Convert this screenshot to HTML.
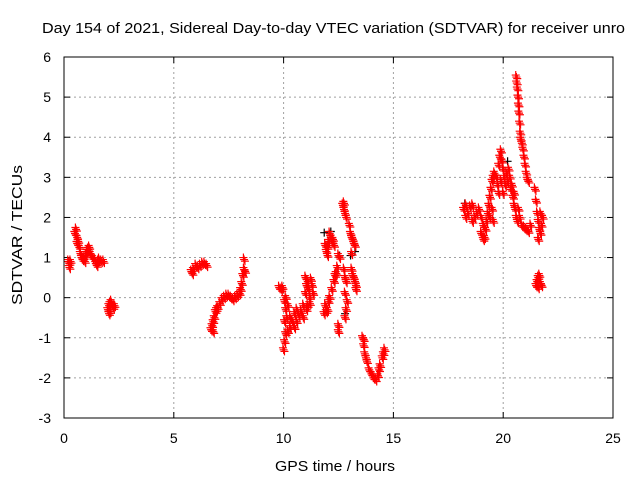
<!DOCTYPE html>
<html><head><meta charset="utf-8"><style>
body{margin:0;background:#fff;}
svg{display:block;font-family:"Liberation Sans",sans-serif;}
</style></head><body>
<svg id="c" width="640" height="480">
<rect width="640" height="480" fill="#fff"/>
<text x="42" y="33" font-size="15" textLength="583" lengthAdjust="spacingAndGlyphs">Day 154 of 2021, Sidereal Day-to-day VTEC variation (SDTVAR) for receiver unro</text>
<g id="grid"></g>
<g id="ticks"></g>
<g id="marks"></g>
<rect x="64" y="57" width="549" height="361" fill="none" stroke="#000" stroke-width="1"/>
<text x="275" y="471" font-size="15" textLength="120" lengthAdjust="spacingAndGlyphs">GPS time / hours</text>
<text x="0" y="0" font-size="15" textLength="140" lengthAdjust="spacingAndGlyphs" transform="translate(22 305) rotate(-90)">SDTVAR / TECUs</text>
</svg>
<script>
const xTicks=[0,5,10,15,20,25];
const yTicks=[-3,-2,-1,0,1,2,3,4,5,6];
const redT=[0.2,0.25,0.25,0.3,0.5,0.55,0.6,0.6,0.65,0.7,0.75,0.8,0.9,1.0,1.05,1.1,1.15,1.2,1.3,1.4,1.45,1.5,1.55,1.6,1.7,1.8,0.85,0.95,
2.0,2.05,2.1,2.15,2.2,2.25,2.1,2.05,2.3,
5.8,5.9,6.0,6.1,6.2,6.3,6.4,6.5,5.85,
6.7,6.75,6.8,6.8,6.85,6.9,6.95,7.0,7.1,7.2,7.3,7.4,7.5,7.6,7.7,7.8,7.9,8.0,8.05,8.1,8.15,8.2,8.25,8.2,
9.8,9.9,9.95,
10.05,10.1,10.1,10.05,10.1,10.05,10.0,10.15,10.2,10.3,10.4,10.5,10.6,10.7,10.8,10.9,10.5,10.3,10.2,10.6,10.9,
11.0,11.05,11.1,11.15,11.2,11.25,11.3,11.1,11.05,11.2,11.35,11.0,
11.9,11.95,12.0,12.0,12.05,12.1,12.15,12.2,12.25,12.3,
11.85,11.9,12.0,12.05,12.1,12.2,12.3,12.35,12.4,12.45,11.95,
12.5,12.55,12.5,12.5,
12.75,12.8,12.85,12.8,12.9,12.85,12.8,
12.7,12.75,12.8,12.85,12.75,
13.0,13.05,13.1,13.15,13.2,13.25,13.1,
13.1,13.15,13.2,13.25,13.3,13.3,
13.6,13.65,13.7,13.75,13.8,13.9,14.0,14.1,14.2,14.3,14.35,14.4,14.5,14.55,14.6,13.65,
18.2,18.3,18.4,18.5,18.6,18.7,18.8,18.9,18.3,18.6,19.0,19.1,
19.0,19.1,19.15,19.2,19.25,19.3,19.35,19.4,19.45,19.5,19.55,19.6,19.4,19.5,19.55,
19.7,19.75,19.8,19.85,19.9,19.95,20.0,20.05,20.1,20.15,20.2,20.25,20.3,20.35,19.8,19.9,20.0,20.4,20.45,20.5,20.55,20.6,20.5,
20.65,20.75,20.85,20.95,21.05,21.15,21.25,20.7,
20.6,20.62,20.65,20.68,20.7,20.72,20.75,20.78,20.8,20.85,20.9,20.95,21.0,21.05,21.1,21.15,
21.45,21.5,21.55,21.6,21.65,21.7,21.6,21.75,21.8,21.7,
21.5,21.55,21.6,21.65,21.7,21.75,21.6];
const redV=[0.9,0.85,0.75,0.9,1.6,1.7,1.5,1.35,1.4,1.25,1.1,1.0,1.0,1.05,1.15,1.2,1.25,1.1,1.0,0.95,0.85,0.8,0.9,0.95,0.9,0.9,0.95,0.9,
-0.3,-0.2,-0.15,-0.1,-0.2,-0.25,-0.35,-0.4,-0.2,
0.65,0.7,0.8,0.75,0.8,0.85,0.85,0.8,0.6,
-0.8,-0.7,-0.6,-0.85,-0.5,-0.35,-0.3,-0.25,-0.15,-0.05,0.0,0.05,0.05,0.0,-0.05,0.0,0.05,0.1,0.2,0.35,0.55,0.7,0.65,0.95,
0.25,0.2,0.25,
-0.1,0.0,-0.3,-0.6,-0.9,-1.1,-1.3,-0.5,-0.2,-0.5,-0.6,-0.4,-0.3,-0.45,-0.35,-0.5,-0.75,-0.75,-0.85,-0.6,-0.2,
0.5,0.3,0.4,0.2,0.0,0.45,0.3,-0.2,-0.3,-0.15,0.1,0.1,
1.3,1.15,1.05,1.25,1.4,1.6,1.5,1.4,1.45,1.3,
-0.4,-0.2,-0.3,-0.1,0.0,0.2,0.4,0.55,0.6,0.75,-0.35,
1.05,1.0,-0.7,-0.85,
0.7,0.5,0.4,0.1,-0.1,-0.3,-0.5,
2.3,2.2,2.1,2.0,2.35,
1.8,1.6,1.5,1.45,1.35,1.3,1.1,
0.7,0.55,0.5,0.4,0.3,0.2,
-1.0,-1.2,-1.4,-1.5,-1.6,-1.8,-1.9,-2.0,-2.05,-1.95,-1.8,-1.7,-1.5,-1.4,-1.3,-1.05,
2.2,2.3,2.1,2.25,2.3,2.0,2.1,2.2,2.0,1.9,2.0,1.8,
1.6,1.45,1.5,1.7,1.9,2.1,2.3,2.5,2.7,2.9,3.0,3.1,2.0,2.2,1.9,
3.0,2.8,3.3,3.5,3.65,3.4,3.2,3.0,2.8,3.1,2.9,3.2,3.0,2.7,2.6,2.9,2.6,2.8,2.5,2.3,2.2,2.0,2.6,
1.9,2.0,1.8,1.75,1.7,1.65,1.8,2.2,
5.5,5.35,5.2,5.0,4.8,4.6,4.35,4.1,3.95,3.85,3.7,3.5,3.3,3.1,2.95,2.9,
2.7,2.4,2.1,1.9,1.7,1.6,1.45,1.8,2.0,2.1,
0.3,0.4,0.5,0.55,0.35,0.3,0.25];
const blackT=[11.85,12.15,12.55,13.05,13.25,18.25,20.2,12.8];
const blackV=[1.62,1.65,1.05,1.05,1.15,2.35,3.4,-0.4];
const NS='http://www.w3.org/2000/svg';
const X0=64,X1=613,Y0=418,Y1=57;
function sx(t){return X0+(t-0)/(25-0)*(X1-X0);}
function sy(v){return Y0-(v+3)/(6+3)*(Y0-Y1);}
function mk(tag,a){const e=document.createElementNS(NS,tag);for(const k in a)e.setAttribute(k,a[k]);return e;}
const grid=document.getElementById('grid'),ticks=document.getElementById('ticks'),marks=document.getElementById('marks');
xTicks.forEach(t=>{const x=sx(t);
 if(t>0&&t<25){const g=mk('line',{x1:x,x2:x,y1:Y1,y2:Y0,stroke:'#a0a0a0','stroke-dasharray':'2,3'});
 
 grid.appendChild(g);}
 const tk=mk('line',{x1:x,x2:x,y1:Y0,y2:Y0-6,stroke:'#000'});
 
 ticks.appendChild(tk);
 const tk2=mk('line',{x1:x,x2:x,y1:Y1,y2:Y1+6,stroke:'#000'});
 
 ticks.appendChild(tk2);
 const l=mk('text',{x:x,y:443,'font-size':14,'text-anchor':'middle'});l.textContent=t;
 
 ticks.appendChild(l);});
yTicks.forEach(v=>{const y=sy(v);
 if(v>-3&&v<6){const g=mk('line',{x1:X0,x2:X1,y1:y,y2:y,stroke:'#a0a0a0','stroke-dasharray':'2,3'});
 
 grid.appendChild(g);}
 const tk=mk('line',{x1:X0,x2:X0+6,y1:y,y2:y,stroke:'#000'});
 
 ticks.appendChild(tk);
 const tk2=mk('line',{x1:X1,x2:X1-6,y1:y,y2:y,stroke:'#000'});
 
 ticks.appendChild(tk2);
 const l=mk('text',{x:51,y:y+5,'font-size':14,'text-anchor':'end'});l.textContent=v;
 
 ticks.appendChild(l);});
function plus(t,v,col,name){const x=sx(t),y=sy(v);
 const p=mk('path',{d:`M${x-4} ${y}H${x+4}M${x} ${y-4}V${y+4}`,stroke:col,'stroke-width':1.2,fill:'none'});
 
 marks.appendChild(p);}
blackT.forEach((t,i)=>plus(t,blackV[i],'#000','black-point'));
redT.forEach((t,i)=>{plus(t,redV[i],'#f00','red-point');plus(t+0.04,redV[i]-0.04,'#f00','red-point');plus(t-0.03,redV[i]+0.05,'#f00','red-point');});
</script>
</body></html>
